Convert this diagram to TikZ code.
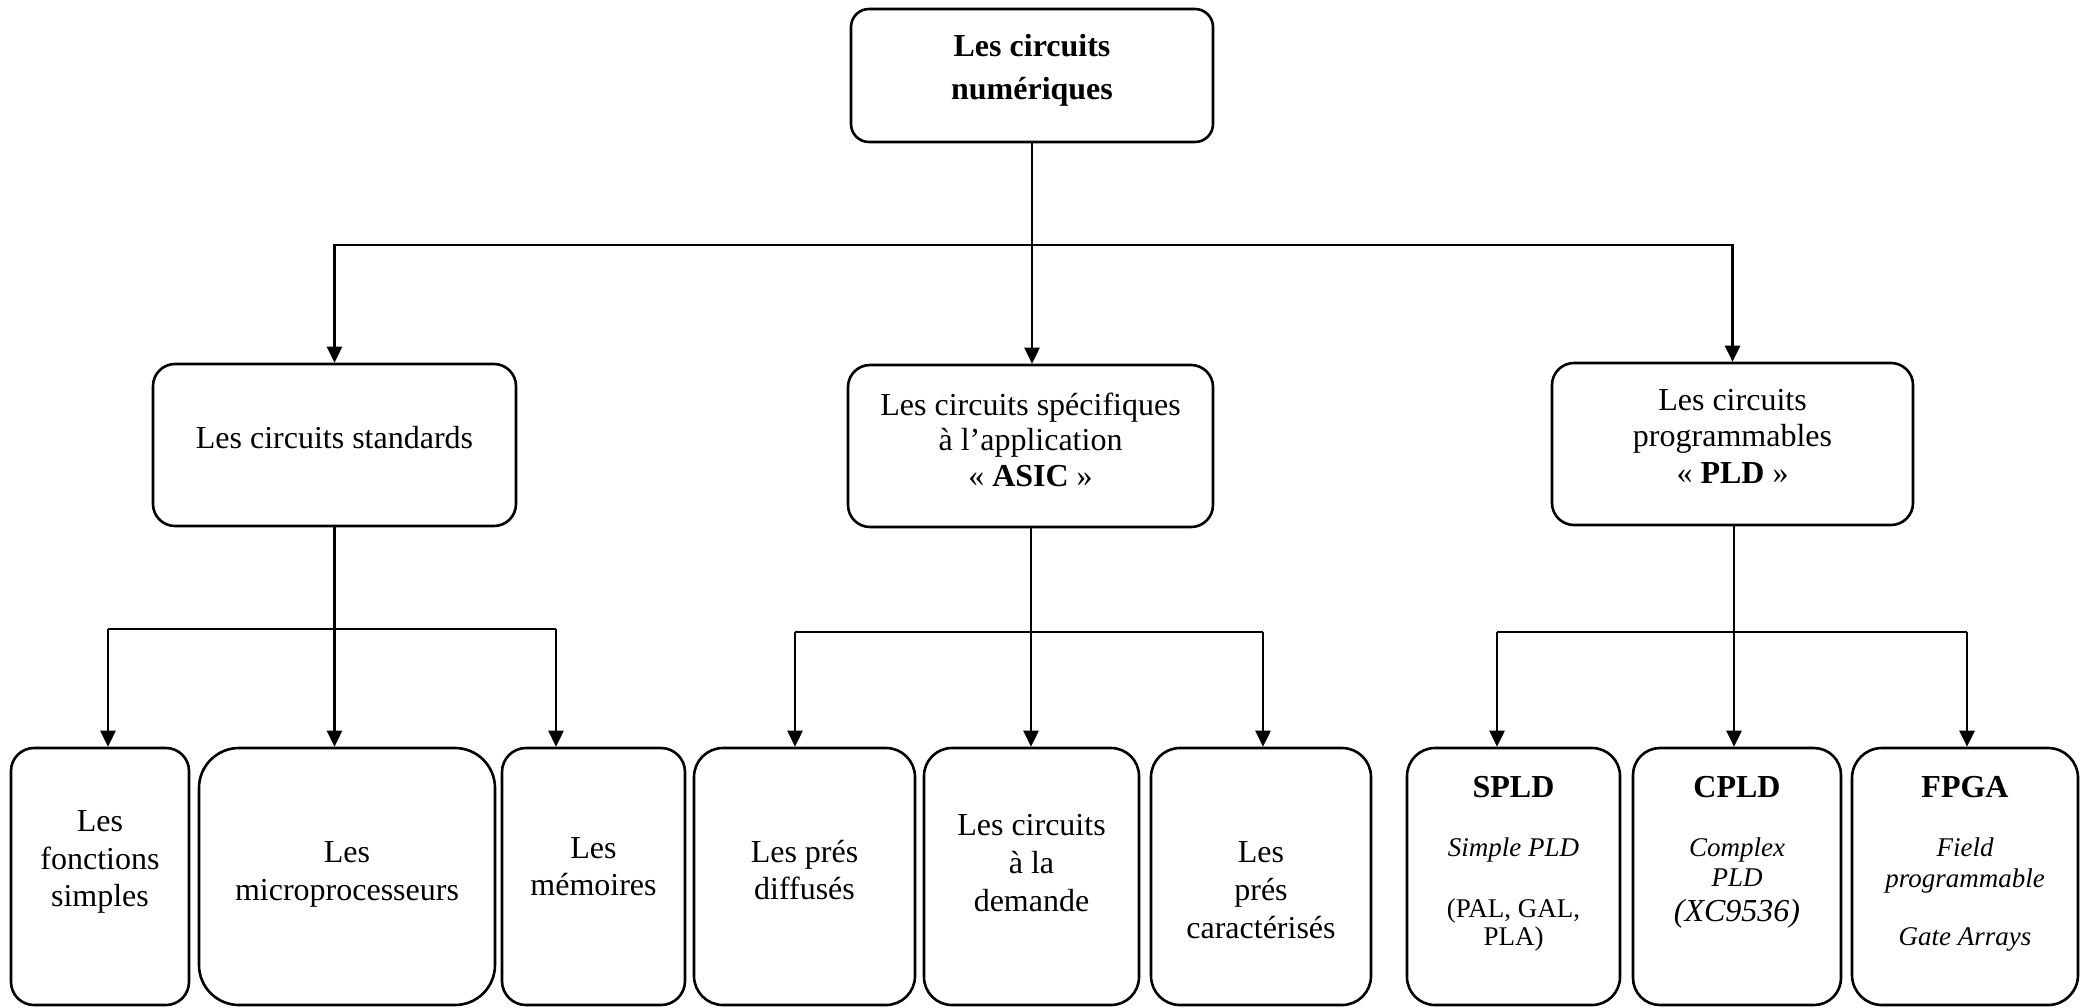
\documentclass[tikz,border=0pt]{standalone}
\usepackage{fontspec}
\setmainfont{Liberation Serif}
\usetikzlibrary{arrows.meta}
\begin{document}
\begin{tikzpicture}[x=1pt,y=-1pt,
  box/.style={draw, line width=2.6pt, rounded corners=#1, inner sep=0pt},
  box/.default=20pt,
  link/.style={line width=2.6pt},
  arrow/.style={link, -{Triangle[length=16pt,width=15pt]}},
  big/.style={font=\fontsize{32}{37}\selectfont, anchor=base, inner sep=0pt},
  small/.style={font=\fontsize{27}{31}\selectfont, anchor=base, inner sep=0pt}]

\useasboundingbox (0,0) rectangle (2085,1007);

% ---- boxes ----
\node[box=18pt, minimum width=362pt, minimum height=133pt] (top) at (1032,75.5) {};

\node[box=22pt, minimum width=363pt, minimum height=162pt] (std) at (334.5,445) {};
\node[box=22pt, minimum width=365pt, minimum height=162pt] (asic) at (1030.5,446) {};
\node[box=22pt, minimum width=361pt, minimum height=162pt] (pld) at (1732.5,444) {};

\node[box=23pt, minimum width=178pt, minimum height=257pt] (b1) at (100,876.5) {};
\node[box=40pt, minimum width=296pt, minimum height=257pt] (b2) at (347,876.5) {};
\node[box=24pt, minimum width=183pt, minimum height=257pt] (b3) at (593.5,876.5) {};
\node[box=29pt, minimum width=221pt, minimum height=257pt] (b4) at (804.5,876.5) {};
\node[box=28pt, minimum width=215pt, minimum height=257pt] (b5) at (1031.5,876.5) {};
\node[box=29pt, minimum width=220pt, minimum height=257pt] (b6) at (1261,876.5) {};
\node[box=28pt, minimum width=213pt, minimum height=257pt] (b7) at (1513.5,876.5) {};
\node[box=27pt, minimum width=208pt, minimum height=257pt] (b8) at (1737,876.5) {};
\node[box=30pt, minimum width=226pt, minimum height=257pt] (b9) at (1965,876.5) {};

% ---- texts ----
\node[big] (top1) at (1032,56) {\textbf{Les circuits}};
\node[big] (top2) at (1032,99) {\textbf{numériques}};

\node[big] (std1) at (334.5,448) {Les circuits standards};

\node[big] (asic1) at (1030.5,415) {Les circuits spécifiques};
\node[big] (asic2) at (1030.5,450) {à l’application};
\node[big] (asic3) at (1030.5,486) {« \textbf{ASIC} »};

\node[big] (pld1) at (1732.5,410) {Les circuits};
\node[big] (pld2) at (1732.5,446) {programmables};
\node[big] (pld3) at (1732.5,483) {« \textbf{PLD} »};

\node[big] (b1a) at (100,831) {Les};
\node[big] (b1b) at (100,869) {fonctions};
\node[big] (b1c) at (100,906) {simples};

\node[big] (b2a) at (347,862) {Les};
\node[big] (b2b) at (347,900) {microprocesseurs};

\node[big] (b3a) at (593.5,858) {Les};
\node[big] (b3b) at (593.5,895) {mémoires};

\node[big] (b4a) at (804.5,862) {Les prés};
\node[big] (b4b) at (804.5,899) {diffusés};

\node[big] (b5a) at (1031.5,835) {Les circuits};
\node[big] (b5b) at (1031.5,873) {à la};
\node[big] (b5c) at (1031.5,911) {demande};

\node[big] (b6a) at (1261,862) {Les};
\node[big] (b6b) at (1261,900) {prés};
\node[big] (b6c) at (1261,938) {caractérisés};

\node[big] (b7a) at (1513.5,797) {\textbf{SPLD}};
\node[small] (b7b) at (1513.5,856) {\itshape Simple PLD};
\node[small] (b7c) at (1513.5,917) {(PAL, GAL,};
\node[small] (b7d) at (1513.5,945) {PLA)};

\node[big] (b8a) at (1737,797) {\textbf{CPLD}};
\node[small] (b8b) at (1737,856) {\itshape Complex};
\node[small] (b8c) at (1737,886) {\itshape PLD};
\node[big] (b8d) at (1737,921) {\itshape (XC9536)};

\node[big] (b9a) at (1965,797) {\textbf{FPGA}};
\node[small] (b9b) at (1965,856) {\itshape Field};
\node[small] (b9c) at (1965,887) {\itshape programmable};
\node[small] (b9d) at (1965,945) {\itshape Gate Arrays};

% ---- connectors: first level ----
\coordinate (j0) at (1032,245);
\draw[link] (top.south) -- (j0);
\draw[arrow] (j0) -| (std.north);
\draw[arrow] (j0) -| (pld.north);
\draw[arrow] (j0) -- (j0 |- asic.north);

% ---- connectors: standard circuits ----
\coordinate (l1) at (108,629);
\coordinate (l2) at (334.5,629);
\coordinate (l3) at (556,629);
\draw[link] (l1) -- (l3);
\draw[link] (std.south) -- (l2);
\draw[arrow] (l1) -- (l1 |- b1.north);
\draw[arrow] (l2) -- (l2 |- b2.north);
\draw[arrow] (l3) -- (l3 |- b3.north);

% ---- connectors: ASIC ----
\coordinate (m1) at (795,632);
\coordinate (m2) at (1031,632);
\coordinate (m3) at (1263,632);
\draw[link] (m1) -- (m3);
\draw[link] (asic.south -| m2) -- (m2);
\draw[arrow] (m1) -- (m1 |- b4.north);
\draw[arrow] (m2) -- (m2 |- b5.north);
\draw[arrow] (m3) -- (m3 |- b6.north);

% ---- connectors: PLD ----
\coordinate (r1) at (1497,632);
\coordinate (r2) at (1734,632);
\coordinate (r3) at (1967,632);
\draw[link] (r1) -- (r3);
\draw[link] (pld.south -| r2) -- (r2);
\draw[arrow] (r1) -- (r1 |- b7.north);
\draw[arrow] (r2) -- (r2 |- b8.north);
\draw[arrow] (r3) -- (r3 |- b9.north);

\end{tikzpicture}
\end{document}
